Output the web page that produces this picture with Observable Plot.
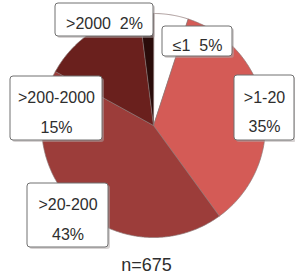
<!DOCTYPE html>
<html><head><meta charset="utf-8">
<script src="https://cdn.jsdelivr.net/npm/d3@7"></script>
<script src="https://cdn.jsdelivr.net/npm/@observablehq/plot@0.6"></script>
<style>body{margin:0;background:#fff;}</style>
</head><body><div id="chart"></div>
<script>
// ---- data ----
const categories = ["≤1", ">1-20", ">20-200", ">200-2000", ">2000"];
const percents = [5, 35, 43, 15, 2];
const sliceColors = ["#ffffff", "#d45b56", "#9c3d3a", "#6a201d", "#2a0c0a"];
const twoLine = [false, true, true, true, false];
const sampleSize = "n=675";

// ---- layout ----
const W = 295, H = 278, cx = 153, cy = 125, R = 112;
const labelBoxes = [
  {x1: 162, y1: 26, x2: 232, y2: 56},
  {x1: 234, y1: 75, x2: 294, y2: 140},
  {x1: 27, y1: 183, x2: 108, y2: 247},
  {x1: 10, y1: 76, x2: 102, y2: 140},
  {x1: 55, y1: 3, x2: 153, y2: 36}
];

const data = categories.map((c, i) => ({cat: c, pct: percents[i]}));
const arcs = d3.pie().sort(null).value(d => d.pct)(data);
const slicePts = [];
for (const a of arcs) {
  slicePts.push({cat: a.data.cat, x: cx, y: cy});
  const n = Math.max(2, Math.ceil((a.endAngle - a.startAngle) / 0.01));
  for (let k = 0; k <= n; ++k) {
    const t = a.startAngle + (a.endAngle - a.startAngle) * k / n;
    slicePts.push({cat: a.data.cat, x: cx + R * Math.sin(t), y: cy - R * Math.cos(t)});
  }
}
const labels = data.map((d, i) => ({
  ...labelBoxes[i],
  text: twoLine[i] ? `${d.cat}\n${d.pct}%` : `${d.cat}\u00a0\u00a0${d.pct}%`,
  tx: (labelBoxes[i].x1 + labelBoxes[i].x2) / 2,
  ty: (labelBoxes[i].y1 + labelBoxes[i].y2) / 2
}));

const chart = Plot.plot({
  width: W, height: H, margin: 0,
  style: {fontFamily: "Liberation Sans, Arial, sans-serif", background: "#fff"},
  x: {domain: [0, W], range: [0, W], axis: null},
  y: {domain: [0, H], range: [0, H], axis: null},
  color: {domain: categories, range: sliceColors},
  marks: [
    Plot.line(slicePts, {x: "x", y: "y", z: "cat", fill: "cat", stroke: "#8a7472", strokeWidth: 0.7, curve: "linear-closed"}),
    Plot.rect(labels, {x1: d => d.x1 + 2, x2: d => d.x2 + 2, y1: d => d.y1 + 2, y2: d => d.y2 + 2, fill: "#b0a8a8", fillOpacity: 0.5, rx: 3}),
    Plot.rect(labels, {x1: "x1", x2: "x2", y1: "y1", y2: "y2", fill: "#fff", stroke: "#707070", strokeWidth: 1, rx: 3}),
    Plot.text(labels, {x: "tx", y: "ty", text: "text", fontSize: 16, lineHeight: 1.85, fill: "#2e2e2e", lineAnchor: "middle"}),
    Plot.text([sampleSize], {x: () => 146, y: () => 265, text: d => d, fontSize: 18, fill: "#2e2e2e"})
  ]
});
document.getElementById("chart").append(chart);
</script>
</body></html>
